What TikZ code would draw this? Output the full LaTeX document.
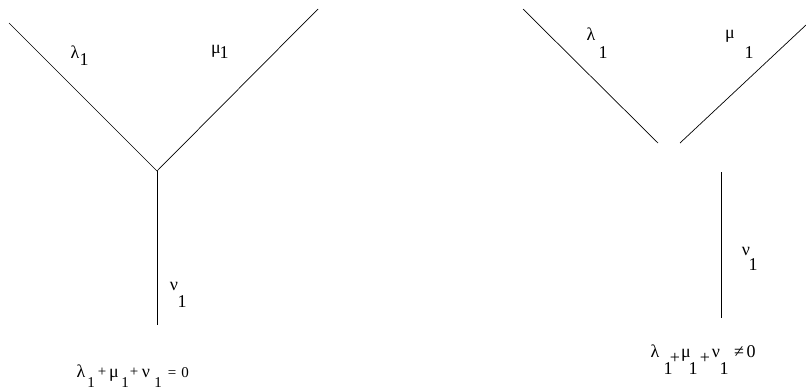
\documentclass[tikz,border=0pt]{standalone}
\usepackage{fontspec}
\setmainfont{Liberation Serif}
\begin{document}
\begin{tikzpicture}[x=1pt,y=-1pt,
  edge/.style={line width=0.7pt, black},
  lbl/.style={inner sep=0pt, anchor=base, font=\fontsize{18}{20}\selectfont},
  small/.style={lbl, font=\fontsize{15}{17}\selectfont}]
\useasboundingbox (0,0) rectangle (806,389);
% left vertex
\coordinate (la) at (9,23);
\coordinate (lb) at (318,9);
\coordinate (lj) at (157,171);
\coordinate (lc) at (157,325);
\draw[edge] (la) -- (lj) -- (lb);
\draw[edge] (lj) -- (lc);
\node[lbl] (l1) at (75,58) {λ};
\node[lbl] (l1s) at (84,65) {1};
\node[lbl] (m1) at (216,53) {μ};
\node[lbl] (m1s) at (224,58) {1};
\node[lbl] (n1) at (174,290) {ν};
\node[lbl] (n1s) at (182,307) {1};
% left equation
\node[lbl] (ea) at (81,377) {λ};
\node[small] (eb) at (91,387) {1};
\node[small] (ec) at (102,376) {+};
\node[lbl] (ed) at (114,377) {μ};
\node[small] (ee) at (125,387) {1};
\node[small] (ef) at (134,376) {+};
\node[lbl] (eg) at (146,377) {ν};
\node[small] (eh) at (158,387) {1};
\node[small] (ei) at (172,377) {=};
\node[small] (ej) at (185,377) {0};
% right vertex
\coordinate (ra) at (523,9);
\coordinate (rb) at (658,143);
\coordinate (rc) at (680,143);
\coordinate (rd) at (806,25);
\coordinate (re) at (721,172);
\coordinate (rf) at (721,318);
\draw[edge] (ra) -- (rb);
\draw[edge] (rc) -- (rd);
\draw[edge] (re) -- (rf);
\node[lbl] (r1) at (591,40) {λ};
\node[lbl] (r1s) at (603,58) {1};
\node[lbl] (q1) at (730,38) {μ};
\node[lbl] (q1s) at (749,58) {1};
\node[lbl] (p1) at (746,255) {ν};
\node[lbl] (p1s) at (753,270) {1};
% right equation
\node[lbl] (fa) at (655,357) {λ};
\node[lbl] (fb) at (668,374) {1};
\node[lbl] (fc) at (675,363) {+};
\node[lbl] (fd) at (686,357) {μ};
\node[lbl] (fe) at (693,374) {1};
\node[lbl] (ff) at (705,363) {+};
\node[lbl] (fg) at (716,357) {ν};
\node[lbl] (fh) at (724,374) {1};
\node[lbl] (fi) at (739,357) {≠};
\node[lbl] (fj) at (751,357) {0};
\end{tikzpicture}
\end{document}
